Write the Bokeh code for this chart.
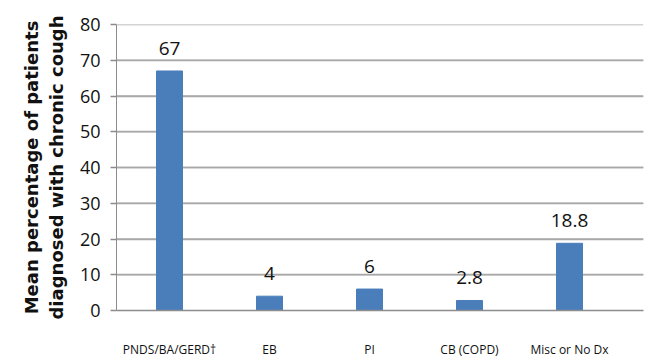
from bokeh.plotting import figure
from bokeh.models import ColumnDataSource, FixedTicker, Range1d, LabelSet
from bokeh.core.properties import value
from bokeh.embed import file_html
from bokeh.resources import INLINE

categories = ["PNDS/BA/GERD\u2020", "EB", "PI", "CB (COPD)", "Misc or No Dx"]
values = [67, 4, 6, 2.8, 18.8]
value_labels = ["67", "4", "6", "2.8", "18.8"]
y_ticks = [0, 10, 20, 30, 40, 50, 60, 70, 80]

X_START, X_END = -0.53, 4.74

xs = list(range(len(categories)))
src = ColumnDataSource(dict(x=xs, top=values, lab=value_labels))
grid_src = ColumnDataSource(dict(y=y_ticks[1:],
                                 x0=[X_START] * (len(y_ticks) - 1),
                                 x1=[X_END] * (len(y_ticks) - 1)))

p = figure(width=647, height=360, output_backend="svg", toolbar_location=None,
           x_range=Range1d(X_START, X_END), y_range=Range1d(0, 80),
           min_border_left=116, min_border_right=4, min_border_top=24, min_border_bottom=47)
p.outline_line_color = None

p.xgrid.visible = False
p.ygrid.grid_line_color = "#a8a8a8"
p.ygrid.grid_line_width = 1.5

p.segment(x0="x0", x1="x1", y0="y", y1="y", source=grid_src,
          line_color="#a8a8a8", line_width=1.5)

p.vbar(x="x", top="top", width=0.26, bottom=0, source=src,
       fill_color="#4a7ebb", line_color="#4a7ebb")

labels = LabelSet(x="x", y="top", text="lab", source=src, y_offset=16,
                  text_align="center", text_font=value("Open Sans"), text_font_size="19px",
                  text_color="#111111")
p.add_layout(labels)

p.xaxis.ticker = FixedTicker(ticks=xs)
p.xaxis.major_label_overrides = {i: c for i, c in enumerate(categories)}
p.xaxis.major_tick_line_color = None
p.xaxis.minor_tick_line_color = None
p.xaxis.axis_line_color = "#8c8c8c"
p.xaxis.axis_line_width = 1.5
p.xaxis.major_label_standoff = 24
p.xaxis.major_label_text_font = "Open Sans"
p.xaxis.major_label_text_font_size = "12px"
p.xaxis.major_label_text_color = "#111111"

p.yaxis.ticker = FixedTicker(ticks=y_ticks)
p.yaxis.major_tick_out = 6
p.yaxis.major_tick_in = 0
p.yaxis.minor_tick_line_color = None
p.yaxis.major_tick_line_color = "#8c8c8c"
p.yaxis.major_tick_line_width = 1.5
p.yaxis.axis_line_color = "#8c8c8c"
p.yaxis.major_label_text_font = "Open Sans"
p.yaxis.major_label_text_font_size = "18px"
p.yaxis.major_label_text_color = "#111111"
p.yaxis.major_label_standoff = 10
p.yaxis.axis_label = "Mean percentage of patients\ndiagnosed with chronic cough"
p.yaxis.axis_label_text_font = "DejaVu Sans"
p.yaxis.axis_label_text_font_style = "bold"
p.yaxis.axis_label_text_font_size = "18px"
p.yaxis.axis_label_text_color = "#111111"
p.yaxis.axis_label_standoff = 10

open("out.html", "w").write(file_html(p, INLINE))
